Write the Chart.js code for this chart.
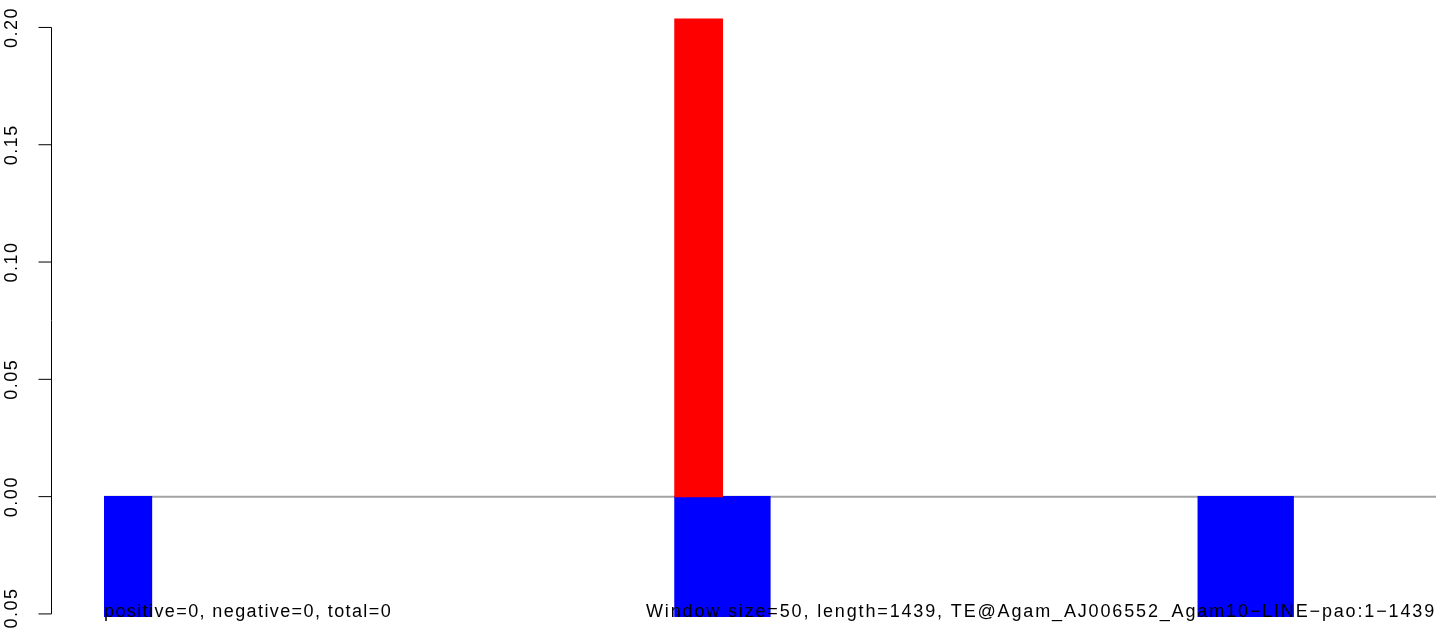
<!DOCTYPE html>
<html>
<head>
<meta charset="utf-8">
<script src="https://cdn.jsdelivr.net/npm/chart.js@4/dist/chart.umd.min.js"></script>
<style>
  html, body { margin:0; padding:0; background:#fff; }
  #wrap { width:1449px; height:628px; position:relative; }
</style>
</head>
<body>
<div id="wrap"><canvas id="chart"></canvas></div>
<script>
// window size 50 over length 1439 -> 28 windows
const windowStarts = [1,51,101,151,201,251,301,351,401,451,501,551,601,651,701,751,801,851,901,951,1001,1051,1101,1151,1201,1251,1301,1351];
const windowLabels = windowStarts.map(s => `${s}-${s+49}`);
const positiveVals = [null,null,null,null,null,null,null,null,null,null,null,null,0.2036,null,null,null,null,null,null,null,null,null,null,null,null,null,null,null];
const negativeVals = [-0.0511,null,null,null,null,null,null,null,null,null,null,null,-0.0511,-0.0511,null,null,null,null,null,null,null,null,null,-0.0511,-0.0511,null,null,null];
const yTicks = [-0.05, 0, 0.05, 0.10, 0.15, 0.20];
const yTickLabels = ['\u22120.05','0.00','0.05','0.10','0.15','0.20'];
const leftNote = 'positive=0, negative=0, total=0';
const rightNote = 'Window size=50, length=1439, TE@Agam_AJ006552_Agam10\u2212LINE\u2212pao:1\u22121439';

const FONT = '"Liberation Sans", Arial, Helvetica, sans-serif';

// R-like decorations: zero line, detached y axis, bottom notes
const rDeco = {
  id: 'rDeco',
  beforeDatasetsDraw(chart){
    const {ctx, chartArea:a, scales:{y}} = chart;
    const y0 = y.getPixelForValue(0);
    ctx.save();
    ctx.strokeStyle = '#a3a3a3'; ctx.lineWidth = 2;
    ctx.beginPath(); ctx.moveTo(a.left, y0); ctx.lineTo(a.right, y0); ctx.stroke();
    ctx.restore();
  },
  afterDatasetsDraw(chart){
    const {ctx, chartArea:a, scales:{y}} = chart;
    const ax = 51.5, tickLen = 13;
    const yTop = y.getPixelForValue(yTicks[yTicks.length-1]);
    const yBot = y.getPixelForValue(yTicks[0]);
    ctx.save();
    ctx.strokeStyle = '#000'; ctx.lineWidth = 1;
    ctx.beginPath(); ctx.moveTo(ax, yTop); ctx.lineTo(ax, yBot);
    yTicks.forEach(v => { const p = y.getPixelForValue(v); ctx.moveTo(ax - tickLen, p); ctx.lineTo(ax, p); });
    ctx.stroke();

    ctx.fillStyle = '#000';
    ctx.font = `18px ${FONT}`;
    if ('letterSpacing' in ctx) ctx.letterSpacing = '1.5px';
    ctx.textAlign = 'center'; ctx.textBaseline = 'middle';
    yTicks.forEach((v, i) => {
      const p = y.getPixelForValue(v);
      ctx.save(); ctx.translate(12, p); ctx.rotate(-Math.PI/2);
      ctx.fillText(yTickLabels[i], 0, 0);
      ctx.restore();
    });

    ctx.font = `18px ${FONT}`;
    ctx.textBaseline = 'alphabetic';
    const base = y.getPixelForValue(-0.05) + 3;
    if ('letterSpacing' in ctx) ctx.letterSpacing = '1.4px';
    ctx.textAlign = 'left'; ctx.fillText(leftNote, a.left, base);
    if ('letterSpacing' in ctx) ctx.letterSpacing = '1.85px';
    ctx.textAlign = 'right'; ctx.fillText(rightNote, a.right, base);
    ctx.restore();
  }
};

new Chart(document.getElementById('chart'), {
  type: 'bar',
  data: {
    labels: windowLabels,
    datasets: [
      { label:'positive', data: positiveVals, backgroundColor:'#ff0000', borderWidth:0, barPercentage:1, categoryPercentage:1, inflateAmount:0.6 },
      { label:'negative', data: negativeVals, backgroundColor:'#0000ff', borderWidth:0, barPercentage:1, categoryPercentage:1, inflateAmount:0.6 }
    ]
  },
  options: {
    responsive:true, maintainAspectRatio:false, animation:false,
    layout:{ padding:{ left:104, right:13, top:0, bottom:0 } },
    plugins:{ legend:{display:false}, tooltip:{enabled:false} },
    scales:{
      x:{ display:false, stacked:true },
      y:{ display:false, stacked:true, min:-0.056, max:0.2117 }
    }
  },
  plugins:[rDeco]
});
</script>
</body>
</html>
